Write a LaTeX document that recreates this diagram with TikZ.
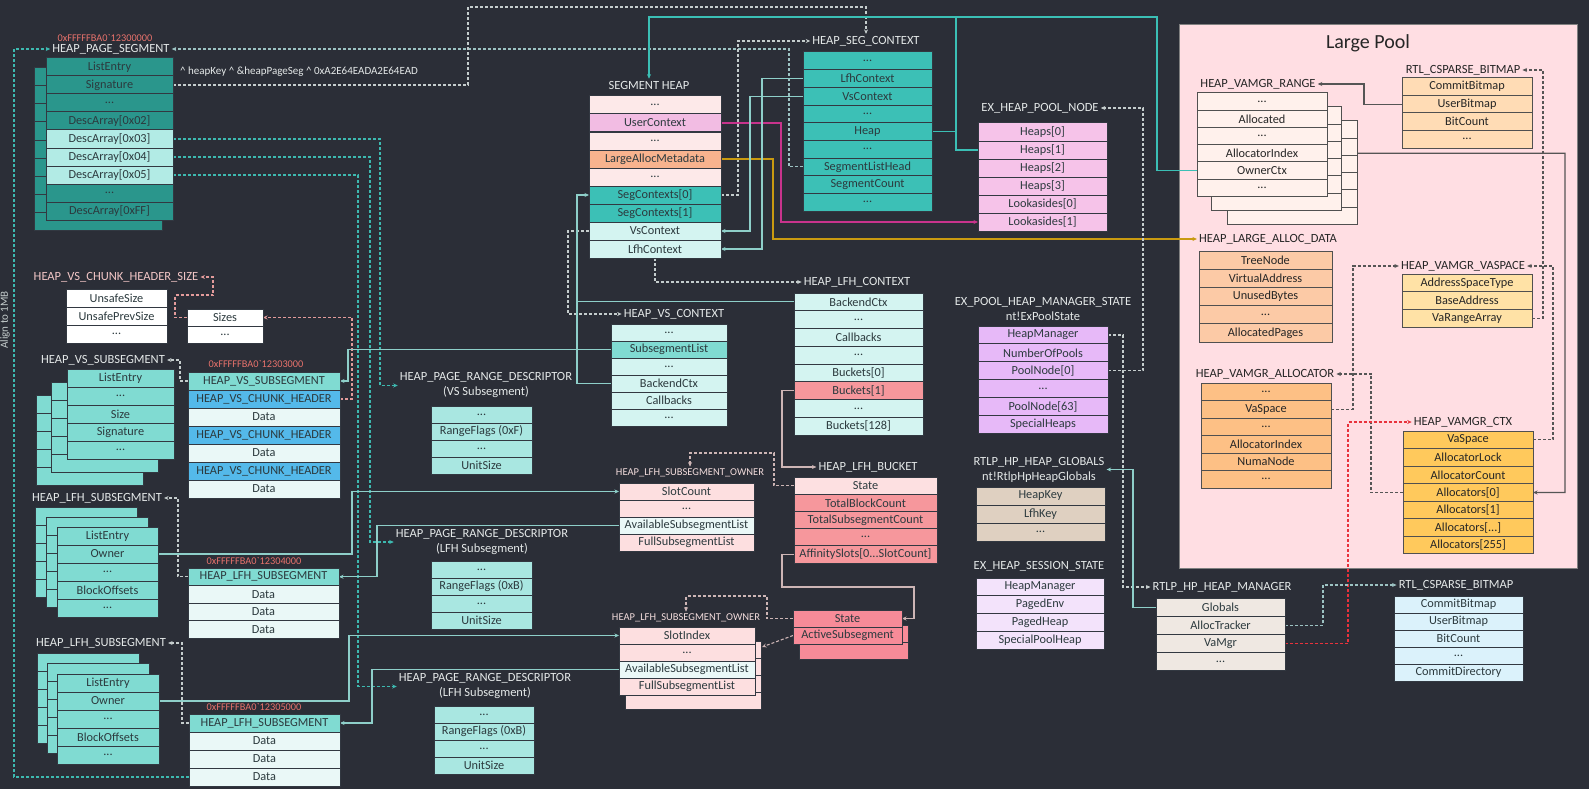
\documentclass[tikz,border=0pt]{standalone}
\usepackage{fontspec}
\setmainfont{Carlito}[Ligatures=TeXOff]
\usetikzlibrary{arrows.meta}
\definecolor{bgcol}{HTML}{2B2E37}
\definecolor{rowline}{HTML}{323841}
\definecolor{lpline}{HTML}{505050}
\definecolor{lptext}{HTML}{262626}
\definecolor{rowtext}{HTML}{2C3A3E}
\definecolor{labelc}{HTML}{E4E8E8}
\definecolor{addrc}{HTML}{E8726C}
\definecolor{pinklbl}{HTML}{F2C6C6}
\definecolor{ownlbl}{HTML}{F2DCDC}
\definecolor{tealc}{HTML}{3DB9B0}
\definecolor{grayteal}{HTML}{9DC3C3}
\definecolor{lightline}{HTML}{C5CDCD}
\definecolor{pinkc}{HTML}{E39B9B}
\definecolor{ltteal}{HTML}{8ECFC9}
\definecolor{tealctwo}{HTML}{3BBFB5}
\definecolor{magc}{HTML}{C8338C}
\definecolor{goldc}{HTML}{C99A10}
\definecolor{pinkgray}{HTML}{CDB5B5}
\definecolor{lpl}{HTML}{555555}
\definecolor{redc}{HTML}{E8323C}
% fills
\definecolor{segdark}{HTML}{2A968C}
\definecolor{seglight}{HTML}{B2EBE5}
\definecolor{tealf}{HTML}{3CC0B6}
\definecolor{tealmid}{HTML}{80DBD2}
\definecolor{tealpale}{HTML}{D4F4F1}
\definecolor{descf}{HTML}{A9E7E1}
\definecolor{dataf}{HTML}{EAF8F7}
\definecolor{chunkf}{HTML}{54B9EA}
\definecolor{pinkpale}{HTML}{FDE9E9}
\definecolor{userf}{HTML}{F2BCE3}
\definecolor{largef}{HTML}{F8B38E}
\definecolor{poolf}{HTML}{F6C3E9}
\definecolor{ownf}{HTML}{FDDFE0}
\definecolor{bucketf}{HTML}{F6979C}
\definecolor{statef}{HTML}{FDE0E1}
\definecolor{statetwo}{HTML}{F78B98}
\definecolor{lavf}{HTML}{E7B9F8}
\definecolor{globf}{HTML}{DFD0C1}
\definecolor{sessf}{HTML}{F3E3FB}
\definecolor{hpmf}{HTML}{EFE8E2}
\definecolor{csblue}{HTML}{DBF2FB}
\definecolor{lpbg}{HTML}{FFDEE3}
\definecolor{vrf}{HTML}{FFF1EC}
\definecolor{csonef}{HTML}{FFDCB5}
\definecolor{ladf}{HTML}{FCCAA6}
\definecolor{vasf}{HTML}{FFE2A6}
\definecolor{alf}{HTML}{FDC085}
\definecolor{ctxf}{HTML}{FFC95C}
\definecolor{whitef}{HTML}{FFFFFF}
\pgfdeclarelayer{bg}
\pgfdeclarelayer{lines}
\pgfsetlayers{bg,lines,main}
\tikzset{
  rowbox/.style={draw=rowline, line width=1pt, inner sep=0pt, outer sep=0pt, text=rowtext, font=\fontsize{12.3}{14}\selectfont},
  lpbox/.style={draw=lpline, text=lptext},
  lbl/.style={text=labelc, inner sep=2pt, font=\fontsize{12.5}{15}\selectfont},
  lplbl/.style={text=lptext, inner sep=2pt, font=\fontsize{12.5}{15}\selectfont},
  addr/.style={text=addrc, inner sep=1pt, font=\fontsize{10.3}{12}\selectfont},
  ownl/.style={text=ownlbl, inner sep=2pt, font=\fontsize{10.5}{12}\selectfont},
  tipa/.style={-{Stealth[length=4.5pt,width=4pt]}},
  dl/.style={tipa, line width=1.1pt, dash pattern=on 3pt off 2pt},
  sl/.style={tipa, line width=1.2pt},
  sln/.style={line width=1.2pt}
}
\newcommand{\dotsx}{...}
\newcommand{\tbl}[7]{%
  \foreach [count=\i] \fl/\txt in {#7} {
    \node[rowbox,#6,fill=\fl,minimum width=#4pt,minimum height=#5pt,anchor=north west] (#1-\i) at (#2,{#3+(\i-1)*#5}) {\txt};
  }%
}
\newcommand{\backrows}[7]{%
  \foreach \i in {1,2,3,4,5,6,7,8,9} {
    \ifnum\i>#5\relax\else
    \filldraw[fill=#6, draw=#7, line width=1pt] (#1,{#2+(\i-1)*#4}) rectangle ++(#3,#4);
    \fi
  }%
}
\begin{document}
\begin{tikzpicture}[x=1pt,y=-1pt]
\useasboundingbox (0,0) rectangle (1589,789);
\begin{pgfonlayer}{bg}
\fill[bgcol] (0,0) rectangle (1589,789);
\filldraw[fill=lpbg, draw=gray, line width=1pt] (1179,25) rectangle (1577,568);
\end{pgfonlayer}
\node[text=lptext, font=\fontsize{20}{24}\selectfont] (lpt) at (1368,43) {Large Pool};

% ---------- HEAP_PAGE_SEGMENT ----------
\node[addr] (psaddr) at (105,38) {0xFFFFFBA0`12300000};
\node[lbl] (pslabel) at (111,49) {HEAP\_PAGE\_SEGMENT};
\backrows{34}{68}{128}{18}{9}{segdark}{rowline}
\tbl{ps}{46}{58}{127}{18}{}{segdark/ListEntry,segdark/Signature,segdark/\dotsx,segdark/{DescArray[0x02]},seglight/{DescArray[0x03]},seglight/{DescArray[0x04]},seglight/{DescArray[0x05]},segdark/\dotsx,segdark/{DescArray[0xFF]}}
\node[text=labelc, inner sep=1pt, font=\fontsize{11}{12}\selectfont, anchor=west] (hk) at (179,72) {\textasciicircum{} heapKey \textasciicircum{} \&heapPageSeg \textasciicircum{} 0xA2E64EADA2E64EAD};
\node[text=lightline, rotate=90, font=\fontsize{11}{12}\selectfont, inner sep=1pt] (align) at (5,320) {Align to 1MB};

% ---------- VS chunk header size ----------
\node[lbl, text=pinklbl] (vschl) at (116,277) {HEAP\_VS\_CHUNK\_HEADER\_SIZE};
\tbl{hs}{66}{289}{101}{18}{}{whitef/UnsafeSize,whitef/UnsafePrevSize,whitef/\dotsx}
\tbl{sz}{187}{309}{76}{17}{}{whitef/Sizes,whitef/\dotsx}

% ---------- VS subsegment stack ----------
\node[lbl] (vssl) at (103,360) {HEAP\_VS\_SUBSEGMENT};
\backrows{36}{395}{107}{18}{5}{tealmid}{rowline}
\backrows{51}{382}{107}{18}{5}{tealmid}{rowline}
\tbl{vss}{67}{369}{107}{18}{}{tealmid/ListEntry,tealmid/\dotsx,tealmid/Size,tealmid/Signature,tealmid/\dotsx}
\node[addr] (vsaddr) at (256,364) {0xFFFFFBA0`12303000};
\tbl{vsr}{188}{372}{152}{18}{}{tealmid/HEAP\_VS\_SUBSEGMENT,chunkf/HEAP\_VS\_CHUNK\_HEADER,dataf/Data,chunkf/HEAP\_VS\_CHUNK\_HEADER,dataf/Data,chunkf/HEAP\_VS\_CHUNK\_HEADER,dataf/Data}

% ---------- LFH subsegment 1 ----------
\node[lbl] (lfhl1) at (97,498) {HEAP\_LFH\_SUBSEGMENT};
\backrows{35}{507}{102}{18}{5}{tealmid}{rowline}
\backrows{46}{517}{102}{18}{5}{tealmid}{rowline}
\tbl{lfs1}{57}{527}{101}{18}{}{tealmid/ListEntry,tealmid/Owner,tealmid/\dotsx,tealmid/BlockOffsets,tealmid/\dotsx}
\node[addr] (lfa1) at (254,561) {0xFFFFFBA0`12304000};
\tbl{lr1}{188}{568}{151}{17.5}{}{tealmid/HEAP\_LFH\_SUBSEGMENT,dataf/Data,dataf/Data,dataf/Data}

% ---------- LFH subsegment 2 ----------
\node[lbl] (lfhl2) at (101,643) {HEAP\_LFH\_SUBSEGMENT};
\backrows{37}{653}{102}{18}{5}{tealmid}{rowline}
\backrows{47}{663}{102}{18}{5}{tealmid}{rowline}
\tbl{lfs2}{57}{674}{102}{18}{}{tealmid/ListEntry,tealmid/Owner,tealmid/\dotsx,tealmid/BlockOffsets,tealmid/\dotsx}
\node[addr] (lfa2) at (254,707) {0xFFFFFBA0`12305000};
\tbl{lr2}{189}{714}{151}{18}{}{tealmid/HEAP\_LFH\_SUBSEGMENT,dataf/Data,dataf/Data,dataf/Data}

% ---------- page range descriptors ----------
\node[lbl, align=center] (prd1l) at (486,385.5) {HEAP\_PAGE\_RANGE\_DESCRIPTOR\\(VS Subsegment)};
\tbl{prda}{431}{406}{101}{17}{}{descf/\dotsx,descf/{RangeFlags (0xF)},descf/\dotsx,descf/UnitSize}
\node[lbl, align=center] (prd2l) at (482,542) {HEAP\_PAGE\_RANGE\_DESCRIPTOR\\(LFH Subsegment)};
\tbl{prdb}{431}{561}{101}{17}{}{descf/\dotsx,descf/{RangeFlags (0xB)},descf/\dotsx,descf/UnitSize}
\node[lbl, align=center] (prd3l) at (485,686.5) {HEAP\_PAGE\_RANGE\_DESCRIPTOR\\(LFH Subsegment)};
\tbl{prdc}{434}{706}{100}{17}{}{descf/\dotsx,descf/{RangeFlags (0xB)},descf/\dotsx,descf/UnitSize}

% ---------- SEGMENT HEAP ----------
\node[lbl] (shl) at (649,85) {SEGMENT HEAP};
\tbl{sh}{589}{96}{132}{18}{}{pinkpale/\dotsx,userf/UserContext,pinkpale/\dotsx,largef/LargeAllocMetadata,pinkpale/\dotsx,tealf/{SegContexts[0]},tealf/{SegContexts[1]},tealpale/VsContext,tealpale/LfhContext}

% ---------- HEAP_SEG_CONTEXT ----------
\node[lbl] (segctxl) at (866,41) {HEAP\_SEG\_CONTEXT};
\tbl{segctx}{803}{52}{129}{17.67}{}{tealf/\dotsx,tealf/LfhContext,tealf/VsContext,tealf/\dotsx,tealf/Heap,tealf/\dotsx,tealf/SegmentListHead,tealf/SegmentCount,tealf/\dotsx}

% ---------- EX_HEAP_POOL_NODE ----------
\node[lbl] (pooll) at (1040,108) {EX\_HEAP\_POOL\_NODE};
\tbl{pool}{978}{123}{129}{18}{}{poolf/{Heaps[0]},poolf/{Heaps[1]},poolf/{Heaps[2]},poolf/{Heaps[3]},poolf/{Lookasides[0]},poolf/{Lookasides[1]}}

% ---------- HEAP_VS_CONTEXT ----------
\node[lbl] (vscl) at (674,314) {HEAP\_VS\_CONTEXT};
\tbl{vsc}{611}{324}{116}{17}{}{tealpale/\dotsx,tealmid/SubsegmentList,tealpale/\dotsx,tealpale/BackendCtx,tealpale/Callbacks,tealpale/\dotsx}

% ---------- HEAP_LFH_CONTEXT ----------
\node[lbl] (lfhcl) at (857,282) {HEAP\_LFH\_CONTEXT};
\tbl{lfhc}{794}{293}{129}{17.75}{}{tealpale/BackendCtx,tealpale/\dotsx,tealpale/Callbacks,tealpale/\dotsx,tealpale/{Buckets[0]},bucketf/{Buckets[1]},tealpale/\dotsx,tealpale/{Buckets[128]}}

% ---------- HEAP_LFH_BUCKET ----------
\node[lbl] (bkl) at (868,467) {HEAP\_LFH\_BUCKET};
\tbl{bk}{794}{477}{143}{17.2}{}{statef/State,bucketf/TotalBlockCount,bucketf/TotalSubsegmentCount,bucketf/\dotsx,bucketf/{AffinitySlots[0\dotsx SlotCount]}}

% ---------- second bucket ----------
\backrows{799}{625}{109}{17}{2}{statetwo}{rowline}
\tbl{st}{793}{610}{109}{17}{}{statetwo/State,statetwo/ActiveSubsegment}

% ---------- owners ----------
\node[ownl] (own1l) at (690,473) {HEAP\_LFH\_SUBSEGMENT\_OWNER};
\tbl{own1}{619}{483}{135}{17}{}{ownf/SlotCount,ownf/\dotsx,dataf/AvailableSubsegmentList,ownf/FullSubsegmentList}
\node[ownl] (own2l) at (686,618) {HEAP\_LFH\_SUBSEGMENT\_OWNER};
\backrows{625}{641}{136}{17}{4}{ownf}{rowline}
\tbl{own2}{619}{627}{136}{17}{}{ownf/SlotIndex,ownf/\dotsx,dataf/AvailableSubsegmentList,ownf/FullSubsegmentList}

% ---------- EX_POOL_HEAP_MANAGER_STATE ----------
\node[lbl, align=center] (xpsl) at (1043,308.5) {EX\_POOL\_HEAP\_MANAGER\_STATE\\nt!ExPoolState};
\tbl{xps}{978}{326}{130}{17.9}{}{lavf/HeapManager,lavf/NumberOfPools,lavf/{PoolNode[0]},lavf/\dotsx,lavf/{PoolNode[63]},lavf/SpecialHeaps}

% ---------- RTLP_HP_HEAP_GLOBALS ----------
\node[lbl, align=center] (globl) at (1039,469.5) {RTLP\_HP\_HEAP\_GLOBALS\\nt!RtlpHpHeapGlobals};
\tbl{glob}{976}{487}{129}{18}{}{globf/HeapKey,globf/LfhKey,globf/\dotsx}

% ---------- EX_HEAP_SESSION_STATE ----------
\node[lbl] (sessl) at (1039,566) {EX\_HEAP\_SESSION\_STATE};
\tbl{sess}{976}{578}{128}{17.8}{}{sessf/HeapManager,sessf/PagedEnv,sessf/PagedHeap,sessf/SpecialPoolHeap}

% ---------- RTLP_HP_HEAP_MANAGER ----------
\node[lbl] (hpml) at (1222,587) {RTLP\_HP\_HEAP\_MANAGER};
\tbl{hpm}{1156}{598}{129}{18.2}{}{hpmf/Globals,hpmf/AllocTracker,hpmf/VaMgr,hpmf/\dotsx}

% ---------- RTL_CSPARSE_BITMAP (bottom) ----------
\node[lbl] (cs2l) at (1456,585) {RTL\_CSPARSE\_BITMAP};
\tbl{cs2}{1394}{596}{129}{17}{}{csblue/CommitBitmap,csblue/UserBitmap,csblue/BitCount,csblue/\dotsx,csblue/CommitDirectory}

% ---------- Large Pool contents ----------
\node[lplbl] (vrl) at (1258,84) {HEAP\_VAMGR\_RANGE};
\backrows{1227}{121}{130}{17.2}{6}{vrf}{lpline}
\backrows{1211}{107}{130}{17.2}{6}{vrf}{lpline}
\tbl{vr}{1197}{93}{130}{17.2}{lpbox}{vrf/\dotsx,vrf/Allocated,vrf/\dotsx,vrf/AllocatorIndex,vrf/OwnerCtx,vrf/\dotsx}
\node[lplbl] (cs1l) at (1463,70) {RTL\_CSPARSE\_BITMAP};
\tbl{cs1}{1402}{78}{130}{17.5}{lpbox}{csonef/CommitBitmap,csonef/UserBitmap,csonef/BitCount,csonef/\dotsx}
\node[lplbl] (ladl) at (1268,239) {HEAP\_LARGE\_ALLOC\_DATA};
\tbl{lad}{1199}{251}{133}{18.2}{lpbox}{ladf/TreeNode,ladf/VirtualAddress,ladf/UnusedBytes,ladf/\dotsx,ladf/AllocatedPages}
\node[lplbl] (vasl) at (1463,266) {HEAP\_VAMGR\_VASPACE};
\tbl{vas}{1402}{274}{130}{17.7}{lpbox}{vasf/AddressSpaceType,vasf/BaseAddress,vasf/VaRangeArray}
\node[lplbl] (all) at (1265,374) {HEAP\_VAMGR\_ALLOCATOR};
\tbl{al}{1201}{383}{130}{17.5}{lpbox}{alf/\dotsx,alf/VaSpace,alf/\dotsx,alf/AllocatorIndex,alf/NumaNode,alf/\dotsx}
\node[lplbl] (ctxl) at (1463,422) {HEAP\_VAMGR\_CTX};
\tbl{ctx}{1403}{431}{130}{17.57}{lpbox}{ctxf/VaSpace,ctxf/AllocatorLock,ctxf/AllocatorCount,ctxf/{Allocators[0]},ctxf/{Allocators[1]},ctxf/{Allocators[\dotsx]},ctxf/{Allocators[255]}}

% ================= connectors =================
\begin{pgfonlayer}{lines}
\draw[dl, grayteal] (segctx-7.west) -- ++(-14,0) |- (pslabel.east);
\draw[dl, tealc] (lr2-4.west) -| (14,49) -- (pslabel.west);
\draw[dl, lightline] (ps-2.east) -| (468,7) -| (segctxl.north);
\draw[dl, lightline] (sh-6.east) -| (738,41) -- (segctxl.west);
\draw[dl, tealc] (ps-5.east) -| (380,385.5) -- (prd1l.west);
\draw[dl, tealc] (ps-6.east) -| (370,542) -- (prd2l.west);
\draw[dl, tealc] (ps-7.east) -| (358,686.5) -- (prd3l.west);
\draw[dl, pinkc] (vsr-2.east) -| (352,317.5) -- (sz-1.east);
\draw[dl, pinkc] (sz-1.west) -| (175,295) -| (213,277) -- (vschl.east);
\draw[dl, lightline] (vsr-1.west) -| (180,360) -- (vssl.east);
\draw[dl, lightline] (lr1-1.west) -| (178,498) -- (lfhl1.east);
\draw[dl, lightline] (lr2-1.west) -| (182,643) -- (lfhl2.east);
\draw[sl, ltteal] (vsc-2.west) -| (348,381) -- (vsr-1.east);
\draw[sl, ltteal] (lfs1-2.east) -| (352,491.5) -- (own1-1.west);
\draw[sl, ltteal] (own1-3.west) -| (377,576.75) -- (lr1-1.east);
\draw[sl, ltteal] (lfs2-2.east) -| (349,635.5) -- (own2-1.west);
\draw[sl, ltteal] (own2-3.west) -| (372,723) -- (lr2-1.east);
\draw[sl, tealctwo] (pool-2.west) -| (956,17) -| (shl.north);
\draw[sln, tealctwo] (segctx-5.east) -- ++(24,0);
\draw[sln, tealctwo] (vr-5.west) -| (1157,17) -- (956,17);
\draw[sl, magc] (sh-2.east) -| (781,222) -- (pool-6.west);
\draw[sl, goldc] (sh-4.east) -| (773,239) -- (ladl.west);
\draw[dl, lightline] (sh-8.west) -| (568,314) -- (vscl.west);
\draw[dl, lightline] (sh-9.south) |- (lfhcl.west);
\draw[sl, ltteal] (vsc-4.west) -| (577,195) -- (sh-6.west);
\draw[sln, ltteal] (lfhc-1.west) -- ++(-217,0);
\draw[sl, ltteal] (segctx-3.west) -| (750,231) -- (sh-8.east);
\draw[sl, ltteal] (segctx-2.west) -| (762,249) -- (sh-9.east);
\draw[dl, lightline] (xps-3.east) -| (1143,108) -- (pooll.east);
\draw[dl, lightline] (xps-1.east) -| (1123,587) -- (hpml.west);
\draw[sl, ltteal] (hpm-1.west) -| (1133,469.5) -- (globl.east);
\draw[sl, pinkgray] (lfhc-6.west) -| (782,467) -- (bkl.west);
\draw[dl, pinkgray] (bk-1.west) -| (774,453) -| (own1l.north);
\draw[sl, pinkgray] (bk-5.west) -| (782,587) -| (914,618.5) -- (st-1.east);
\draw[dl, pinkgray] (st-1.west) -| (767,596) -| (own2l.north);
\draw[dl, pinkgray] (st-2.west) -- (762,647);
\draw[sl, lpl] (cs1-2.west) -| (1364,84) -- (vrl.east);
\draw[sl, lpl] (vr-4.east) -| (1565,492.5) -- (ctx-4.east);
\draw[dl, lpl] (vas-3.east) -| (1543,70) -- (cs1l.east);
\draw[dl, lpl] (ctx-1.east) -| (1553,266) -- (vasl.east);
\draw[dl, lpl] (al-2.east) -| (1353,266) -- (vasl.west);
\draw[dl, lpl] (ctx-4.west) -| (1371,374) -- (all.east);
\draw[dl, redc] (hpm-3.east) -| (1348,422) -- (ctxl.west);
\draw[dl, grayteal] (hpm-2.east) -| (1323,585) -- (cs2l.west);
\end{pgfonlayer}
\end{tikzpicture}
\end{document}
